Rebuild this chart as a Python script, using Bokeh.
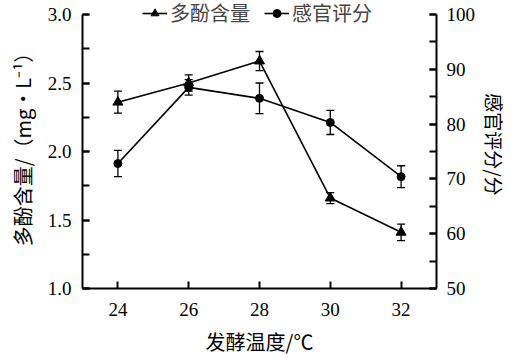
from bokeh.plotting import figure
from bokeh.models import (Range1d, LinearAxis, SingleIntervalTicker, FixedTicker,
                          Whisker, ColumnDataSource, Legend, LegendItem, NumeralTickFormatter)
from bokeh.embed import file_html
from bokeh.resources import INLINE

temps = [24, 26, 28, 30, 32]
polyphenol = [2.36, 2.50, 2.66, 1.66, 1.41]
polyphenol_err = [0.08, 0.06, 0.07, 0.04, 0.06]
sensory = [72.8, 86.7, 84.7, 80.3, 70.4]
sensory_err = [2.4, 1.4, 2.8, 2.2, 2.0]

x_ticks = [24, 26, 28, 30, 32]
left_axis = (1.0, 3.0)
right_axis = (50, 100)

SERIF = "Liberation Serif"
CJK = "Noto Sans CJK SC"

# frame is a little taller than the axes so the legend (which sits on the top edge) is not clipped
FRAME_H = 288
AXIS_H = 274
pad_frac = (FRAME_H - AXIS_H) / AXIS_H
l_top = left_axis[1] + (left_axis[1] - left_axis[0]) * pad_frac
r_top = right_axis[1] + (right_axis[1] - right_axis[0]) * pad_frac

p = figure(width=509, height=351, output_backend="svg", toolbar_location=None,
           frame_width=354, frame_height=FRAME_H,
           x_range=Range1d(23, 33), y_range=Range1d(left_axis[0], l_top),
           min_border_left=82, min_border_right=73, min_border_top=0, min_border_bottom=63)
p.extra_y_ranges = {"right": Range1d(right_axis[0], r_top)}
p.outline_line_color = None
p.xgrid.visible = False
p.ygrid.visible = False

def style_axis(ax):
    ax.axis_line_color = "black"
    ax.axis_line_width = 2
    ax.major_tick_line_width = 2
    ax.minor_tick_line_width = 2
    ax.major_tick_in = 7
    ax.major_tick_out = 0
    ax.minor_tick_in = 7
    ax.minor_tick_out = 0
    ax.major_label_text_font = SERIF
    ax.major_label_text_font_size = "19px"
    ax.major_label_text_color = "black"
    ax.axis_label_text_font = CJK
    ax.axis_label_text_font_size = "20px"
    ax.axis_label_text_font_style = "normal"
    ax.axis_label_text_color = "black"

xa = p.xaxis[0]
xa.ticker = FixedTicker(ticks=x_ticks)
xa.axis_label = "发酵温度/℃"
style_axis(xa)
xa.major_label_standoff = 14
xa.axis_label_standoff = 8

ya = p.yaxis[0]
ya.ticker = SingleIntervalTicker(interval=0.5, num_minor_ticks=2)
ya.formatter = NumeralTickFormatter(format="0.0")
ya.bounds = left_axis
ya.axis_label = "多酚含量/（mg•L⁻¹）"
style_axis(ya)
ya.major_label_standoff = 11
ya.axis_label_standoff = 8

ra = LinearAxis(y_range_name="right", ticker=SingleIntervalTicker(interval=10, num_minor_ticks=2),
                bounds=right_axis)
ra.axis_label = "感官评分/分"
style_axis(ra)
ra.axis_label_text_font_size = "19px"
ra.major_label_standoff = 10
ra.axis_label_standoff = 3
p.add_layout(ra, "right")

src1 = ColumnDataSource(dict(x=temps, y=polyphenol,
                             lo=[v - e for v, e in zip(polyphenol, polyphenol_err)],
                             hi=[v + e for v, e in zip(polyphenol, polyphenol_err)]))
src2 = ColumnDataSource(dict(x=temps, y=sensory,
                             lo=[v - e for v, e in zip(sensory, sensory_err)],
                             hi=[v + e for v, e in zip(sensory, sensory_err)]))

w1 = Whisker(source=src1, base="x", lower="lo", upper="hi", line_color="black", line_width=1.3)
w2 = Whisker(source=src2, base="x", lower="lo", upper="hi", line_color="black", line_width=1.3,
             y_range_name="right")
for w in (w1, w2):
    w.upper_head.size = 8
    w.lower_head.size = 8
    w.upper_head.line_width = 1.3
    w.lower_head.line_width = 1.3
    p.add_layout(w)

l1 = p.line("x", "y", source=src1, line_color="black", line_width=1.6)
m1 = p.scatter("x", "y", source=src1, marker="triangle", size=10, color="black")
l2 = p.line("x", "y", source=src2, line_color="black", line_width=1.6, y_range_name="right")
m2 = p.scatter("x", "y", source=src2, marker="circle", size=8, color="black", y_range_name="right")

legend = Legend(items=[LegendItem(label="多酚含量", renderers=[l1, m1]),
                       LegendItem(label="感官评分", renderers=[l2, m2])],
                orientation="horizontal", location=(60, 261),
                label_text_font=CJK, label_text_font_size="20px",
                glyph_width=25, glyph_height=20, label_height=20, label_standoff=3, spacing=14,
                padding=0, margin=0, border_line_color=None,
                background_fill_alpha=0)
p.add_layout(legend, "center")

open("out.html", "w").write(file_html(p, INLINE))
